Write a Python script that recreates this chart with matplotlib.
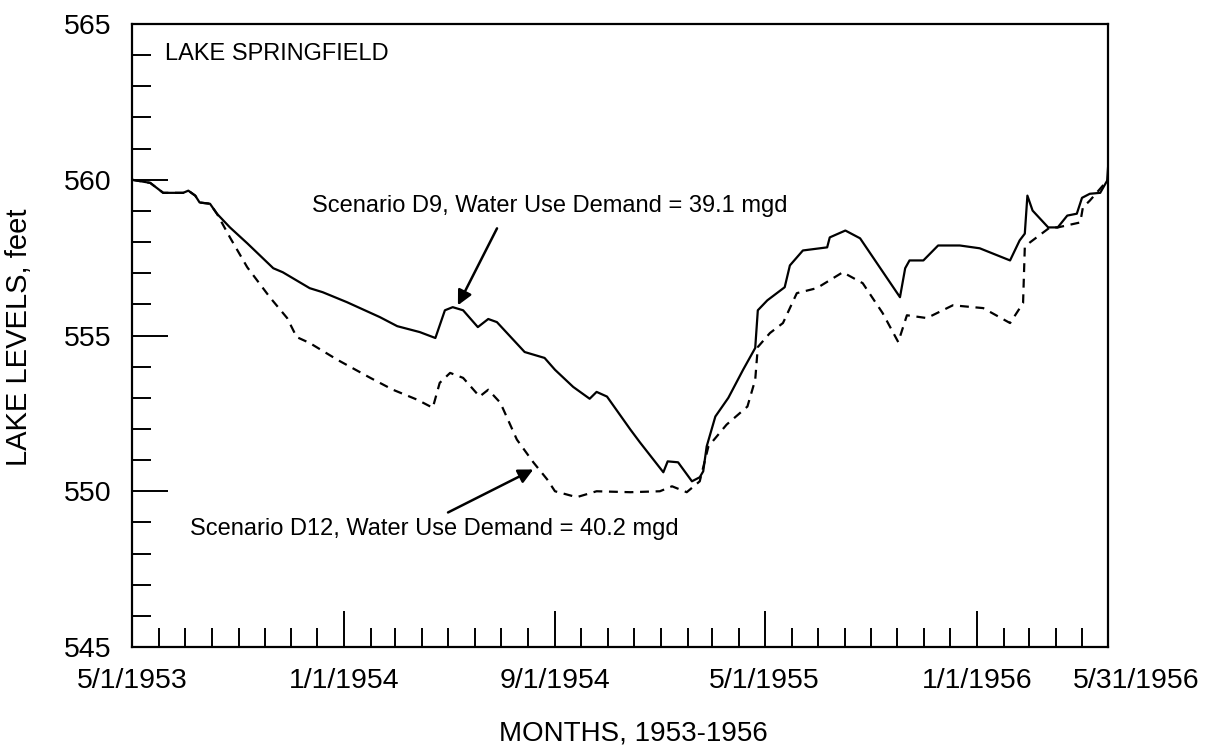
import datetime as dt

import matplotlib
matplotlib.use("Agg")
import matplotlib.pyplot as plt
import matplotlib.dates as mdates
from matplotlib.ticker import MultipleLocator
from matplotlib.transforms import ScaledTranslation

plt.rcParams["font.family"] = ["Liberation Sans", "DejaVu Sans"]

START = dt.date(1953, 5, 1)
END = dt.date(1956, 5, 31)

# Scenario D9 (solid): days since 5/1/1953, lake level in feet
d9_days = [0, 21, 36, 59, 65, 73, 78, 90, 98, 113, 133, 163, 174, 205, 220, 248,
           286, 306, 332, 350, 361, 370, 382, 399, 411, 421, 453, 476, 488, 509,
           528, 536, 548, 575, 586, 613, 618, 630, 646, 655, 659, 663, 673, 688,
           705, 719, 722, 733, 753, 759, 774, 802, 805, 823, 840, 886, 892, 897,
           913, 930, 955, 978, 1013, 1024, 1030, 1033, 1039, 1057, 1068, 1079,
           1090, 1096, 1105, 1117, 1125, 1126]
d9_level = [560.0, 559.9, 559.58, 559.58, 559.65, 559.49, 559.27, 559.23, 558.91,
            558.47, 557.96, 557.16, 557.03, 556.52, 556.39, 556.07, 555.59, 555.3,
            555.11, 554.92, 555.81, 555.91, 555.81, 555.27, 555.53, 555.43, 554.47,
            554.28, 553.9, 553.35, 552.97, 553.19, 553.04, 551.98, 551.57, 550.61,
            550.96, 550.93, 550.32, 550.45, 550.64, 551.44, 552.4, 553.0, 553.9,
            554.6, 555.81, 556.13, 556.55, 557.25, 557.73, 557.83, 558.15, 558.37,
            558.12, 556.23, 557.16, 557.41, 557.41, 557.89, 557.89, 557.8, 557.41,
            558.05, 558.27, 559.49, 559.01, 558.47, 558.47, 558.85, 558.91, 559.42,
            559.55, 559.58, 559.97, 560.38]

# Scenario D12 (dashed)
d12_days = [0, 21, 36, 59, 65, 73, 78, 90, 98, 113, 133, 159, 179, 190, 205, 237,
            275, 301, 329, 347, 355, 367, 382, 401, 411, 425, 444, 463, 479, 488,
            513, 536, 575, 609, 623, 640, 655, 665, 686, 710, 719, 722, 736, 751,
            767, 790, 820, 843, 866, 884, 894, 917, 947, 982, 1013, 1028, 1030,
            1036, 1059, 1068, 1094, 1097, 1105, 1125]
d12_level = [560.0, 559.9, 559.58, 559.58, 559.65, 559.49, 559.27, 559.23, 558.91,
             558.15, 557.19, 556.23, 555.56, 554.95, 554.76, 554.22, 553.64, 553.26,
             552.94, 552.68, 553.48, 553.8, 553.64, 553.04, 553.26, 552.84, 551.66,
             550.93, 550.38, 550.0, 549.81, 550.0, 549.97, 550.0, 550.16, 549.97,
             550.32, 551.44, 552.14, 552.72, 553.58, 554.63, 555.08, 555.4, 556.36,
             556.52, 557.03, 556.68, 555.72, 554.79, 555.65, 555.56, 555.97, 555.88,
             555.4, 556.04, 557.83, 557.99, 558.47, 558.47, 558.63, 559.11, 559.33,
             559.97]

major_dates = [dt.date(1953, 5, 1), dt.date(1954, 1, 1), dt.date(1954, 9, 1),
               dt.date(1955, 5, 1), dt.date(1956, 1, 1), dt.date(1956, 5, 31)]
major_labels = ["5/1/1953", "1/1/1954", "9/1/1954", "5/1/1955", "1/1/1956", "5/31/1956"]


def to_dates(days):
    return [START + dt.timedelta(days=d) for d in days]


fig = plt.figure(figsize=(12.12, 7.5), dpi=100)
ax = fig.add_axes([0.1089, 0.1373, 0.8053, 0.8307])

ax.plot(to_dates(d9_days), d9_level, color="black", lw=1.6)
ax.plot(to_dates(d12_days), d12_level, color="black", lw=1.6, dashes=(4, 3))

ax.set_xlim(START, END)
ax.set_ylim(545, 565)

ax.set_xticks(major_dates)
ax.set_xticklabels(major_labels)
ax.xaxis.set_minor_locator(mdates.MonthLocator())
ax.yaxis.set_major_locator(MultipleLocator(5))
ax.yaxis.set_minor_locator(MultipleLocator(1))

ax.tick_params(which="both", direction="in", top=False, right=False, width=1.4, labelsize=20.5)
ax.tick_params(which="major", length=26)
ax.tick_params(which="minor", length=13.5)
ax.tick_params(axis="y", pad=15)
ax.tick_params(axis="x", pad=15)

# last date label sits a bit right of the axis end, as in the original
last = ax.get_xticklabels()[-1]
last.set_transform(last.get_transform() + ScaledTranslation(0.28, 0, fig.dpi_scale_trans))

for s in ax.spines.values():
    s.set_linewidth(1.6)

ax.set_xlabel("MONTHS, 1953-1956", fontsize=20)
ax.xaxis.set_label_coords(0.514, -0.118)
ax.set_ylabel("LAKE LEVELS, feet", fontsize=21)
ax.yaxis.set_label_coords(-0.1014, 0.497)

ax.text(0.0338, 0.9424, "LAKE SPRINGFIELD", transform=ax.transAxes,
        fontsize=17, va="baseline")

ax.text(0.1844, 0.6976, "Scenario D9, Water Use Demand = 39.1 mgd",
        transform=ax.transAxes, fontsize=17, va="baseline")
ax.annotate("", xy=(START + dt.timedelta(days=376), 555.97), xycoords="data",
            xytext=(0.374, 0.672), textcoords="axes fraction",
            arrowprops=dict(arrowstyle="-|>", color="black", lw=1.8, mutation_scale=22,
                            shrinkA=0, shrinkB=0))

ax.text(0.0594, 0.1792, "Scenario D12, Water Use Demand = 40.2 mgd",
        transform=ax.transAxes, fontsize=17, va="baseline")
ax.annotate("", xy=(START + dt.timedelta(days=463), 550.70), xycoords="data",
            xytext=(0.3238, 0.216), textcoords="axes fraction",
            arrowprops=dict(arrowstyle="-|>", color="black", lw=1.8, mutation_scale=22,
                            shrinkA=0, shrinkB=0))

fig.savefig("out.png", dpi=100)
